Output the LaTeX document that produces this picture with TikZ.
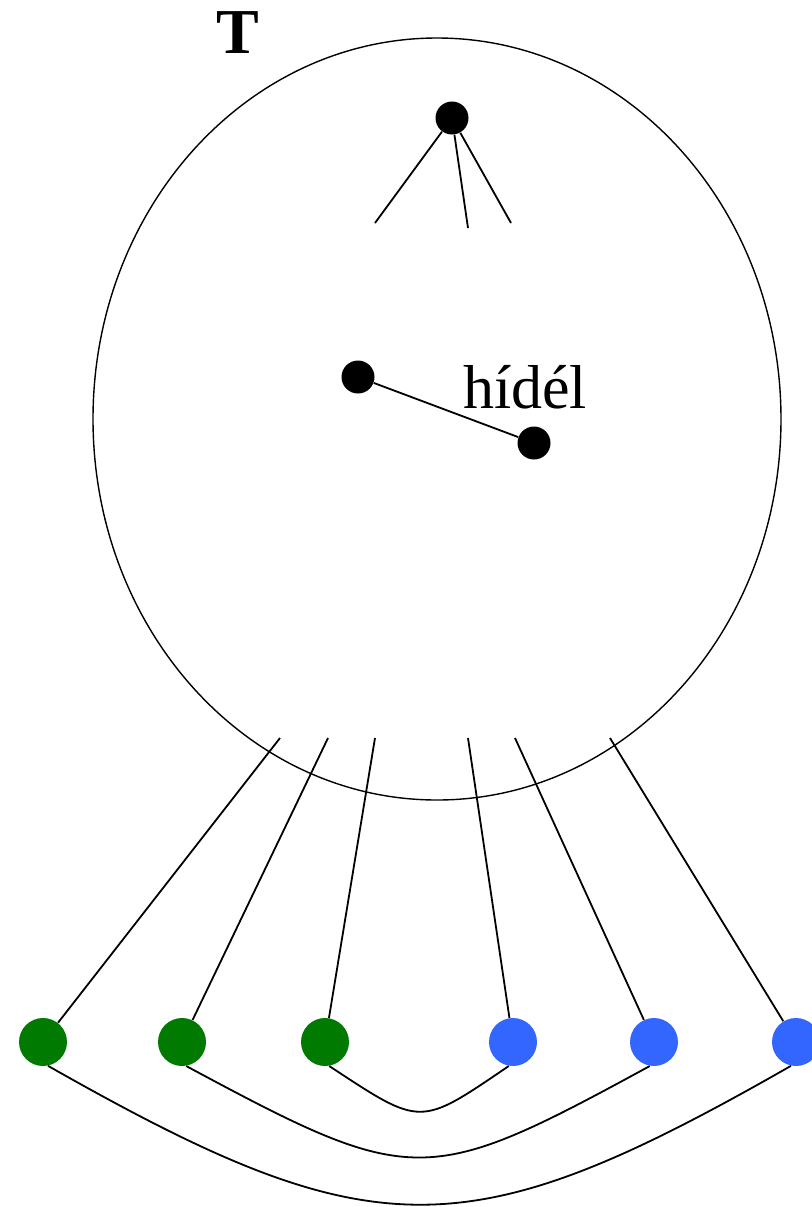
\documentclass[tikz,border=0pt]{standalone}
\usepackage{fontspec}
\setmainfont{Liberation Serif}
\usepackage{tikz}
\usetikzlibrary{positioning,calc}
\definecolor{leafgreen}{RGB}{0,122,0}
\definecolor{leafblue}{RGB}{51,102,255}

\tikzset{
  dot/.style={circle, fill=black, inner sep=0pt, minimum size=16.5pt},
  leaf/.style={circle, fill=#1, inner sep=0pt, minimum size=24pt},
  link/.style={line width=0.9pt}
}

\begin{document}
\begin{tikzpicture}[x=0.5pt, y=-0.5pt, font=\fontsize{31}{31}\selectfont]
\useasboundingbox (0,0) rectangle (811,1207);
% the big set T
\draw[line width=0.7pt] (437,419) ellipse [x radius=344, y radius=381];
\node[anchor=base, inner sep=0pt, font=\fontsize{32}{32}\selectfont\bfseries] (tlab) at (238,53) {T};
% vertex with three half edges
\node[dot] (apex) at (452,118) {};
\coordinate (h1) at (375,223);
\coordinate (h2) at (468,228);
\coordinate (h3) at (511,223);
\draw[link] (apex) -- (h1);
\draw[link] (apex) -- (h2);
\draw[link] (apex) -- (h3);
% the bridge
\node[dot] (ba) at (358,377) {};
\node[dot] (bb) at (534,443) {};
\draw[link] (ba) -- (bb);
\node[anchor=base, inner sep=0pt] (blab) at (525,408) {hídél};
% leaves below
\node[leaf=leafgreen] (g1) at (43,1042) {};
\node[leaf=leafgreen] (g2) at (182,1042) {};
\node[leaf=leafgreen] (g3) at (325,1042) {};
\node[leaf=leafblue]  (b1) at (513,1042) {};
\node[leaf=leafblue]  (b2) at (654,1042) {};
\node[leaf=leafblue]  (b3) at (796,1042) {};
\coordinate (s1) at (280,738);
\coordinate (s2) at (328,738);
\coordinate (s3) at (375,738);
\coordinate (s4) at (468,738);
\coordinate (s5) at (515,738);
\coordinate (s6) at (610,738);
\draw[link] (s1) -- (g1);
\draw[link] (s2) -- (g2);
\draw[link] (s3) -- (g3);
\draw[link] (s4) -- (b1);
\draw[link] (s5) -- (b2);
\draw[link] (s6) -- (b3);
% pairing arcs
\coordinate (p1) at (422,1127);
\coordinate (q1) at (419,1127);
\coordinate (p2) at (413,1188);
\coordinate (q2) at (426,1188);
\coordinate (p3) at (374,1251);
\coordinate (q3) at (467,1251);
\draw[link] (g3.-80) .. controls (p1) and (q1) .. (b1.-100);
\draw[link] (g2.-80) .. controls (p2) and (q2) .. (b2.-100);
\draw[link] (g1.-78) .. controls (p3) and (q3) .. (b3.-102);
\end{tikzpicture}
\end{document}
